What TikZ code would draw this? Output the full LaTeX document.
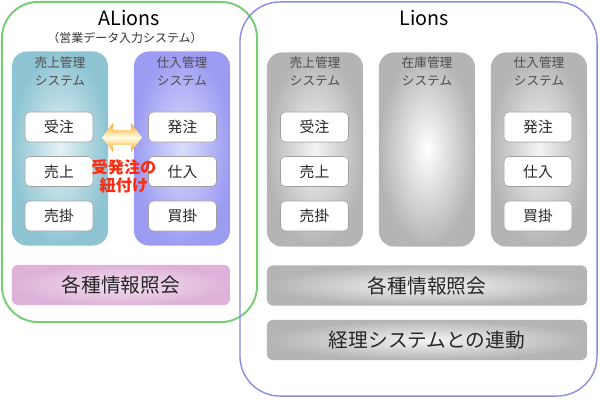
\documentclass[tikz,border=0pt]{standalone}
\usepackage{fontspec}
\usepackage{xcolor}
\usetikzlibrary{positioning}
\newfontfamily\jp{Noto Sans CJK JP}
\definecolor{grn}{HTML}{78CC78}
\definecolor{blu}{HTML}{8C8CE4}
\definecolor{teal0}{HTML}{8EC4D2}
\definecolor{teal1}{HTML}{E4F2F6}
\definecolor{pur0}{HTML}{9C9CF2}
\definecolor{pur1}{HTML}{DCDCFC}
\definecolor{gry0}{HTML}{B4B4B4}
\definecolor{gry1}{HTML}{F4F4F4}
\definecolor{pnk0}{HTML}{DEB2D8}
\definecolor{pnk1}{HTML}{F4E0F0}
\definecolor{orn}{HTML}{FFA41C}
\definecolor{redtxt}{HTML}{FF2A10}
\tikzset{
  col/.style={rounded corners=0.375cm, minimum width=2.4cm, minimum height=4.85cm},
  item/.style={draw=gray!75, fill=white, rounded corners=0.12cm, minimum width=1.7cm,
    minimum height=0.75cm, text=black!85, font=\jp\fontsize{10.5}{12}\selectfont},
  hdr/.style={align=center, text=black!70, font=\jp\fontsize{9}{12.8}\selectfont},
  bar/.style={rounded corners=0.15cm, minimum height=1cm, text=black!85,
    font=\jp\fontsize{14}{16}\selectfont}
}
\begin{document}
\begin{tikzpicture}[x=0.025cm, y=-0.025cm, font=\jp]
      %\draw [dotted] (0,0) grid[step=50] (600,400);
      \useasboundingbox (0,0) rectangle (600,400);
      % outer frames
      \node [draw=grn, line width=1.4pt, rounded corners=0.9cm,
             minimum width=6.375cm, minimum height=8cm]   (al) at (129.5,162) {};
      \node [draw=blu, line width=1pt, rounded corners=1cm,
             minimum width=8.925cm, minimum height=9.85cm] (li) at (418.5,199) {};
      \node [font=\jp\fontsize{14}{16}\selectfont]   (alt) at (129,18) {ALions};
      \node [font=\jp\fontsize{8.5}{10}\selectfont, text=black!80] (als) at (125,38) {（営業データ入力システム）};
      \node [font=\jp\fontsize{14}{16}\selectfont]   (lit) at (424,18) {Lions};
      % ALions columns
      \node [col, inner color=teal1, outer color=teal0] (ac1) at ( 60,148.5) {};
      \node [col, inner color=pur1,  outer color=pur0]  (ac2) at (182,148.5) {};
      \node [hdr] (ah1) at ( 60,71) {売上管理\\システム};
      \node [hdr] (ah2) at (182,71) {仕入管理\\システム};
      \node [item] (aj)  at ( 59,127)   {受注};
      \node [item] (au)  at ( 59,171.5) {売上};
      \node [item] (auk) at ( 59,216)   {売掛};
      \node [item] (ah)  at (182.5,127)   {発注};
      \node [item] (as)  at (182.5,171.5) {仕入};
      \node [item] (akk) at (182.5,216)   {買掛};
      % link arrow
      \shade [top color=orn, bottom color=orn, middle color=white!90!yellow]
            (102,137.5) -- (113,123) -- (113,130) -- (131,130) -- (131,123) -- (142,137.5)
            -- (131,152) -- (131,145) -- (113,145) -- (113,152) -- cycle;
      \node [align=center, text=redtxt, font=\jp\bfseries\fontsize{11.5}{12.8}\selectfont]
            (lnk) at (124,176) {受発注の\\紐付け};
      \node [bar, minimum width=5.45cm, inner color=pnk1, outer color=pnk0] (ainq) at (121,285) {各種情報照会};
      % Lions columns
      \node [col, inner color=gry1, outer color=gry0] (lc1) at (315,149.5) {};
      \node [col, inner color=white, outer color=gry0] (lc2) at (427,149.5) {};
      \node [col, inner color=gry1, outer color=gry0] (lc3) at (539,149.5) {};
      \node [hdr] (lh1) at (315,71) {売上管理\\システム};
      \node [hdr] (lh2) at (427,71) {在庫管理\\システム};
      \node [hdr] (lh3) at (539,71) {仕入管理\\システム};
      \node [item] (lj)  at (314.5,127)   {受注};
      \node [item] (lu)  at (314.5,171.5) {売上};
      \node [item] (luk) at (314.5,216)   {売掛};
      \node [item] (lh)  at (538,127)   {発注};
      \node [item] (ls)  at (538,171.5) {仕入};
      \node [item] (lkk) at (538,216)   {買掛};
      \node [bar, minimum width=8cm, inner color=gry1, outer color=gry0] (linq) at (427,285.5) {各種情報照会};
      \node [bar, minimum width=8cm, inner color=gry1, outer color=gry0] (lacc) at (427,340)   {経理システムとの連動};
\end{tikzpicture}
\end{document}
